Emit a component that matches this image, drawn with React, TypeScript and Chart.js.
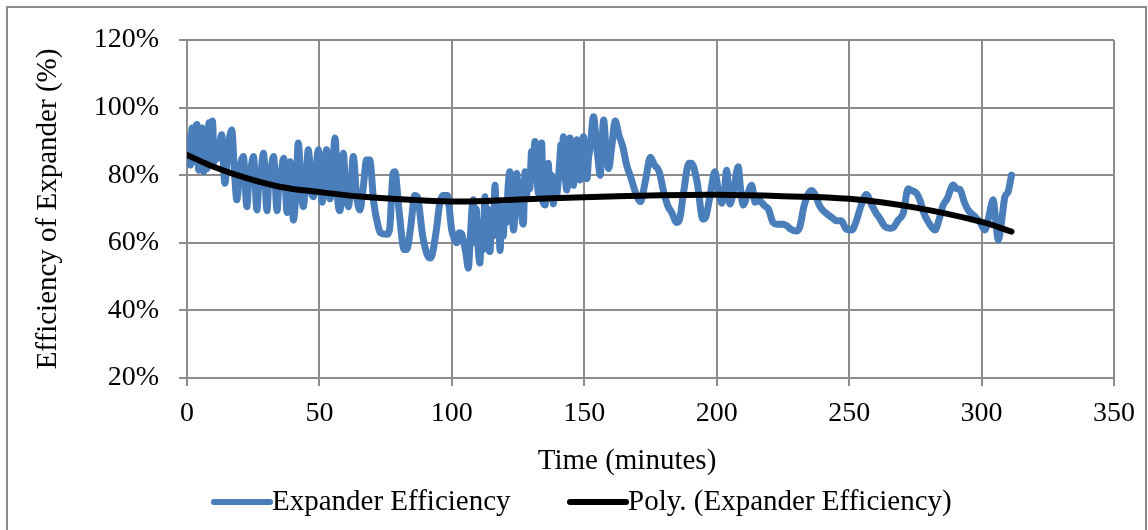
import React, { useEffect, useRef } from "react";
import { Chart, registerables } from "chart.js";

Chart.register(...registerables);

// Time (minutes) of each reading
const TIME_MIN = [
  0, 0.6, 1.3, 1.9, 2.6, 3.2, 3.8, 4.4, 5.1, 5.7, 6.3, 7.0, 7.6, 8.3, 9.0, 9.6, 10.3, 11.0, 11.6, 12.3,
  13.1, 14.3, 15.5, 16.9, 18.0, 18.8, 20.0, 21.3, 22.6, 23.3, 23.8, 25.1, 26.4, 27.0, 27.6, 28.9, 30.2, 30.8, 31.4, 32.7,
  34.0, 34.6, 35.2, 36.5, 37.8, 38.4, 39.0, 40.2, 41.2, 42.0, 43.0, 43.9, 45.0, 45.8, 47.0, 47.7, 48.7, 49.6, 51.0, 51.8,
  52.7, 54.0, 54.8, 55.9, 57.0, 57.8, 59.0, 60.0, 60.9, 62.0, 62.8, 64.0, 65.3, 66.5, 67.8, 69.0, 70.5, 72.2, 73.0, 75.5,
  76.5, 77.8, 78.5, 80.0, 82.0, 83.0, 84.5, 86.0, 87.0, 89.0, 91.0, 92.0, 94.0, 95.5, 96.7, 98.3, 99.9, 101.0, 101.8, 102.8,
  103.7, 104.5, 105.3, 106.2, 107.0, 107.6, 108.1, 108.6, 109.2, 109.8, 110.6, 111.2, 111.8, 112.5, 113.0, 113.5, 114.0, 114.4, 115.0, 115.6,
  116.3, 116.9, 117.5, 118.2, 118.8, 119.4, 120.1, 120.6, 121.2, 121.9, 122.6, 123.3, 124.0, 124.5, 125.2, 125.8, 126.4, 127.0, 127.6, 128.2,
  128.8, 129.4, 130.1, 130.7, 131.4, 132.1, 132.7, 133.3, 133.9, 134.5, 135.2, 135.8, 136.4, 137.0, 137.6, 138.3, 138.9, 139.5, 140.2, 140.7,
  141.2, 141.7, 142.1, 142.8, 143.4, 144.0, 144.6, 145.3, 145.9, 146.5, 147.2, 147.8, 148.4, 149.1, 149.7, 150.4, 151.0, 151.6, 152.2, 153.5,
  154.5, 155.3, 156.0, 156.6, 157.3, 158.2, 159.2, 160.3, 161.7, 163.0, 164.5, 166.0, 167.5, 169.3, 171.2, 173.0, 175.0, 176.5, 178.3, 180.0,
  181.5, 183.0, 184.9, 186.0, 187.5, 189.5, 190.5, 192.6, 194.8, 195.8, 197.5, 199.3, 200.5, 201.9, 203.0, 203.7, 205.0, 206.5, 208.1, 209.0,
  210.0, 211.5, 213.2, 214.5, 216.0, 218.0, 219.5, 221.3, 223.0, 225.0, 226.5, 228.0, 230.0, 231.4, 233.0, 235.8, 237.0, 239.0, 241.4, 243.9,
  245.2, 247.0, 249.0, 251.0, 252.5, 254.5, 256.5, 258.5, 260.0, 261.6, 263.5, 265.4, 266.6, 268.5, 270.4, 272.3, 273.5, 275.5, 277.0, 278.0,
  280.0, 282.4, 284.0, 285.5, 287.0, 289.3, 290.5, 291.8, 293.5, 294.9, 297.5, 299.5, 301.2, 302.5, 304.4, 305.3, 306.3, 307.5, 308.8, 310.0,
  311.3,
];

// Expander efficiency (%) at each reading
const EFFICIENCY = [
  86, 91, 83, 94, 84, 93, 95, 81.5, 92, 94, 81, 90, 82, 95.5, 86, 96, 84, 88, 85, 89,
  92, 77.6, 88, 93.4, 80, 72.7, 82, 85.5, 70.7, 78, 80, 85.5, 69.7, 76, 78, 86.5, 69.5, 77, 80, 85.5,
  69.5, 76, 78, 85, 69, 77, 84, 66.7, 76, 89.5, 78, 70.7, 80, 87.5, 75, 73.6, 82, 87.5, 72, 80,
  87.5, 73, 79, 91, 72, 69.5, 86.5, 75, 70.7, 78, 85.5, 74, 69.7, 76, 84.5, 84.5, 72, 64.8, 63, 62.5,
  64, 80.5, 81, 70, 58, 58, 65, 74, 73.5, 62, 56, 55.5, 63, 72, 74, 74, 64, 61, 60, 63,
  62.6, 60, 57, 52.5, 62, 70, 72.7, 60, 70, 60, 54, 66, 58, 73.6, 64, 70, 58, 57.4, 68, 62,
  77, 66, 72, 57.7, 68, 62, 72, 66, 76, 81, 72, 63.8, 72, 80.5, 70, 78, 68, 65.5, 81, 74,
  80, 76, 87, 83, 90, 80, 74.6, 82, 89.5, 72, 71.2, 80, 83.5, 74, 80, 71.5, 78, 74, 78.6, 84,
  89, 80, 91.4, 80, 75.6, 84, 91, 83, 77, 85, 90.5, 84, 78.6, 86, 91.4, 84, 79, 85, 88, 97.3,
  90, 84, 80, 88, 96.3, 88, 82, 88, 96, 92, 88.5, 83, 79.5, 75, 72.2, 78, 85.3, 83, 81, 75,
  71, 69, 66, 67, 75, 83.5, 83.5, 78, 67, 67.5, 74, 81, 76, 71.7, 76, 81.5, 71.5, 76, 82.5, 76,
  71.2, 74, 77, 72, 72.5, 71, 70, 66, 65.5, 65.5, 65, 64, 63.5, 64.8, 71, 75.5, 74.5, 70.7, 68.7, 67.2,
  66.5, 66.5, 64, 63.8, 66, 71, 74.3, 71.2, 69, 67.2, 64.8, 64.3, 64.5, 66.7, 68.7, 76, 75.5, 74.6, 72, 69.2,
  66, 63.8, 67, 71.2, 73, 77.1, 76, 75.8, 72, 69.7, 67.7, 66, 63.8, 67, 72.7, 67, 60.8, 66, 73.6, 75,
  80,
];

// Polynomial trend line
const TREND_TIME = [0, 10, 22.5, 35, 50, 66.6, 85, 103, 125, 150, 175, 200, 225, 250, 275, 300, 311.3];
const TREND_EFF = [86, 82.5, 79.1, 76.6, 75, 73.6, 72.7, 72.2, 72.8, 73.5, 74, 74.2, 73.8, 73, 70.4, 66.2, 63.3];

const SERIES_NAMES = ["Expander Efficiency", "Poly. (Expander Efficiency)"];
const X_TITLE = "Time (minutes)";
const Y_TITLE = "Efficiency of Expander (%)";
const X_MIN = 0;
const X_MAX = 350;
const X_STEP = 50;
const Y_MIN = 20;
const Y_MAX = 120;
const Y_STEP = 20;

const BLUE = "#4a7ebb";
const GRID = "#8c8c8c";
const FONT = "'Liberation Serif', 'Times New Roman', serif";

const overlayPlugin = {
  id: "overlay",
  afterDraw(chart: any) {
    const ctx = chart.ctx;
    ctx.save();
    ctx.fillStyle = "#000";
    ctx.textBaseline = "middle";
    ctx.font = `29px ${FONT}`;
    // x axis title
    ctx.textAlign = "center";
    ctx.fillText(X_TITLE, 627, 461);
    // legend
    const ly = 502;
    const items = [
      { color: BLUE, x0: 214, x1: 270, tx: 272, text: SERIES_NAMES[0] },
      { color: "#000", x0: 570, x1: 626, tx: 628, text: SERIES_NAMES[1] },
    ];
    ctx.textAlign = "left";
    for (const it of items) {
      ctx.strokeStyle = it.color;
      ctx.lineWidth = 6;
      ctx.lineCap = "round";
      ctx.beginPath();
      ctx.moveTo(it.x0, ly);
      ctx.lineTo(it.x1, ly);
      ctx.stroke();
      ctx.fillText(it.text, it.tx, ly);
    }
    ctx.restore();
  },
};

export default function App() {
  const ref = useRef<HTMLCanvasElement | null>(null);

  useEffect(() => {
    if (!ref.current) return;
    const effData = TIME_MIN.map((t, i) => ({ x: t, y: EFFICIENCY[i] }));
    const trendData = TREND_TIME.map((t, i) => ({ x: t, y: TREND_EFF[i] }));
    const chart = new Chart(ref.current, {
      type: "line",
      data: {
        datasets: [
          {
            label: SERIES_NAMES[0],
            data: effData,
            borderColor: BLUE,
            backgroundColor: BLUE,
            borderWidth: 7,
            pointRadius: 0,
            cubicInterpolationMode: "monotone",
            borderJoinStyle: "round",
            borderCapStyle: "round",
            fill: false,
            order: 2,
          },
          {
            label: SERIES_NAMES[1],
            data: trendData,
            borderColor: "#000",
            backgroundColor: "#000",
            borderWidth: 6,
            pointRadius: 0,
            tension: 0.4,
            borderCapStyle: "round",
            fill: false,
            order: 1,
          },
        ],
      },
      options: {
        responsive: false,
        animation: false,
        devicePixelRatio: 1,
        layout: { padding: { left: 0, top: 40, right: 34, bottom: 50 } },
        plugins: {
          legend: { display: false },
          tooltip: { enabled: false },
        },
        scales: {
          x: {
            type: "linear",
            min: X_MIN,
            max: X_MAX,
            ticks: {
              stepSize: X_STEP,
              color: "#000",
              font: { family: FONT, size: 28 },
              padding: 11,
              maxRotation: 0,
            },
            grid: { color: GRID, lineWidth: 2, tickLength: 8, tickColor: GRID },
            border: { color: GRID, width: 2 },
            afterFit(scale: any) {
              scale.height = 530 - 378 - 50;
            },
          },
          y: {
            min: Y_MIN,
            max: Y_MAX,
            ticks: {
              stepSize: Y_STEP,
              color: "#000",
              font: { family: FONT, size: 28 },
              padding: 20,
              callback: (v: any) => `${v}%`,
            },
            grid: { color: GRID, lineWidth: 2, tickLength: 8, tickColor: GRID },
            border: { color: GRID, width: 2 },
            title: {
              display: true,
              text: Y_TITLE,
              color: "#000",
              font: { family: FONT, size: 29 },
              padding: { top: 31, bottom: 0 },
            },
            afterFit(scale: any) {
              scale.width = 187;
            },
          },
        },
      },
      plugins: [overlayPlugin],
    });
    return () => chart.destroy();
  }, []);

  return (
    <div style={{ position: "fixed", left: 0, top: 0, width: 1148, height: 530, background: "#fff" }}>
      <div
        style={{
          position: "absolute",
          left: 6,
          top: 6,
          width: 1137,
          height: 600,
          border: "2px solid #8c8c8c",
        }}
      />
      <canvas ref={ref} width={1148} height={530} style={{ position: "absolute", left: 0, top: 0 }} />
    </div>
  );
}
